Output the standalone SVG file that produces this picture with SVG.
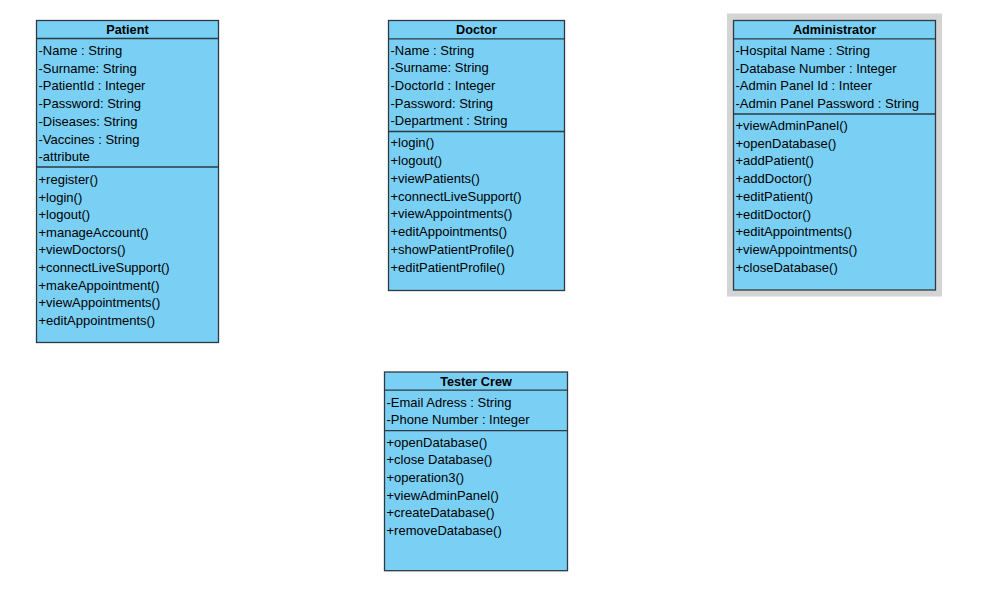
<svg xmlns="http://www.w3.org/2000/svg" width="986" height="611" viewBox="0 0 986 611">
  <style>
    .box { fill: #7acff5; stroke: #2e3a40; stroke-width: 1.3; }
    .sep { stroke: #2e3a40; stroke-width: 1.3; }
    .title { font-family: "Liberation Sans", Arial, sans-serif; font-size: 12.7px; font-weight: bold; fill: #000; text-anchor: middle; }
    .item { font-family: "Liberation Sans", Arial, sans-serif; font-size: 13px; fill: #000; }
    .frame { fill: #d4d4d4; }
  </style>
  <rect width="986" height="611" fill="#ffffff"/>

  <!-- Patient class -->
  <g id="patient">
    <rect class="box" x="36.5" y="20.5" width="182" height="322"/>
    <line class="sep" x1="36.5" y1="38.5" x2="218.5" y2="38.5"/>
    <line class="sep" x1="36.5" y1="167" x2="218.5" y2="167"/>
    <text class="title" x="127.5" y="34">Patient</text>
    <text class="item" x="38.5" y="55">-Name : String</text>
    <text class="item" x="38.5" y="72.7">-Surname: String</text>
    <text class="item" x="38.5" y="90.4">-PatientId : Integer</text>
    <text class="item" x="38.5" y="108.1">-Password: String</text>
    <text class="item" x="38.5" y="125.8">-Diseases: String</text>
    <text class="item" x="38.5" y="143.5">-Vaccines : String</text>
    <text class="item" x="38.5" y="161.2">-attribute</text>
    <text class="item" x="38.5" y="184">+register()</text>
    <text class="item" x="38.5" y="201.6">+login()</text>
    <text class="item" x="38.5" y="219.2">+logout()</text>
    <text class="item" x="38.5" y="236.8">+manageAccount()</text>
    <text class="item" x="38.5" y="254.4">+viewDoctors()</text>
    <text class="item" x="38.5" y="272">+connectLiveSupport()</text>
    <text class="item" x="38.5" y="289.6">+makeAppointment()</text>
    <text class="item" x="38.5" y="307.2">+viewAppointments()</text>
    <text class="item" x="38.5" y="324.8">+editAppointments()</text>
  </g>

  <!-- Doctor class -->
  <g id="doctor">
    <rect class="box" x="388.5" y="20.5" width="176" height="270"/>
    <line class="sep" x1="388.5" y1="38.8" x2="564.5" y2="38.8"/>
    <line class="sep" x1="388.5" y1="131.5" x2="564.5" y2="131.5"/>
    <text class="title" x="476.5" y="34">Doctor</text>
    <text class="item" x="390.5" y="54.5">-Name : String</text>
    <text class="item" x="390.5" y="72.2">-Surname: String</text>
    <text class="item" x="390.5" y="89.9">-DoctorId : Integer</text>
    <text class="item" x="390.5" y="107.6">-Password: String</text>
    <text class="item" x="390.5" y="125.3">-Department : String</text>
    <text class="item" x="390.5" y="147.3">+login()</text>
    <text class="item" x="390.5" y="165.1">+logout()</text>
    <text class="item" x="390.5" y="182.8">+viewPatients()</text>
    <text class="item" x="390.5" y="200.6">+connectLiveSupport()</text>
    <text class="item" x="390.5" y="218.4">+viewAppointments()</text>
    <text class="item" x="390.5" y="236.2">+editAppointments()</text>
    <text class="item" x="390.5" y="253.9">+showPatientProfile()</text>
    <text class="item" x="390.5" y="271.7">+editPatientProfile()</text>
  </g>

  <!-- Administrator class (selected) -->
  <g id="administrator">
    <rect class="frame" x="727" y="13.5" width="215" height="283"/>
    <rect class="box" x="733.5" y="20.5" width="202" height="269.5"/>
    <line class="sep" x1="733.5" y1="38.8" x2="935.5" y2="38.8"/>
    <line class="sep" x1="733.5" y1="114" x2="935.5" y2="114"/>
    <text class="title" x="834.5" y="34">Administrator</text>
    <text class="item" x="735.5" y="55">-Hospital Name : String</text>
    <text class="item" x="735.5" y="72.7">-Database Number : Integer</text>
    <text class="item" x="735.5" y="90.4">-Admin Panel Id : Inteer</text>
    <text class="item" x="735.5" y="108.1">-Admin Panel Password : String</text>
    <text class="item" x="735.5" y="130">+viewAdminPanel()</text>
    <text class="item" x="735.5" y="147.7">+openDatabase()</text>
    <text class="item" x="735.5" y="165.4">+addPatient()</text>
    <text class="item" x="735.5" y="183.1">+addDoctor()</text>
    <text class="item" x="735.5" y="200.8">+editPatient()</text>
    <text class="item" x="735.5" y="218.5">+editDoctor()</text>
    <text class="item" x="735.5" y="236.2">+editAppointments()</text>
    <text class="item" x="735.5" y="253.9">+viewAppointments()</text>
    <text class="item" x="735.5" y="271.6">+closeDatabase()</text>
  </g>

  <!-- Tester Crew class -->
  <g id="tester-crew">
    <rect class="box" x="384.5" y="372" width="183" height="198.7"/>
    <line class="sep" x1="384.5" y1="390.2" x2="567.5" y2="390.2"/>
    <line class="sep" x1="384.5" y1="430.7" x2="567.5" y2="430.7"/>
    <text class="title" x="476" y="385.7">Tester Crew</text>
    <text class="item" x="386.5" y="406.7">-Email Adress : String</text>
    <text class="item" x="386.5" y="424.3">-Phone Number : Integer</text>
    <text class="item" x="386.5" y="446.7">+openDatabase()</text>
    <text class="item" x="386.5" y="464.4">+close Database()</text>
    <text class="item" x="386.5" y="482">+operation3()</text>
    <text class="item" x="386.5" y="499.7">+viewAdminPanel()</text>
    <text class="item" x="386.5" y="517.3">+createDatabase()</text>
    <text class="item" x="386.5" y="535">+removeDatabase()</text>
  </g>

  <!-- no associations are drawn between the classes -->
  <g id="connectors"></g>
</svg>
